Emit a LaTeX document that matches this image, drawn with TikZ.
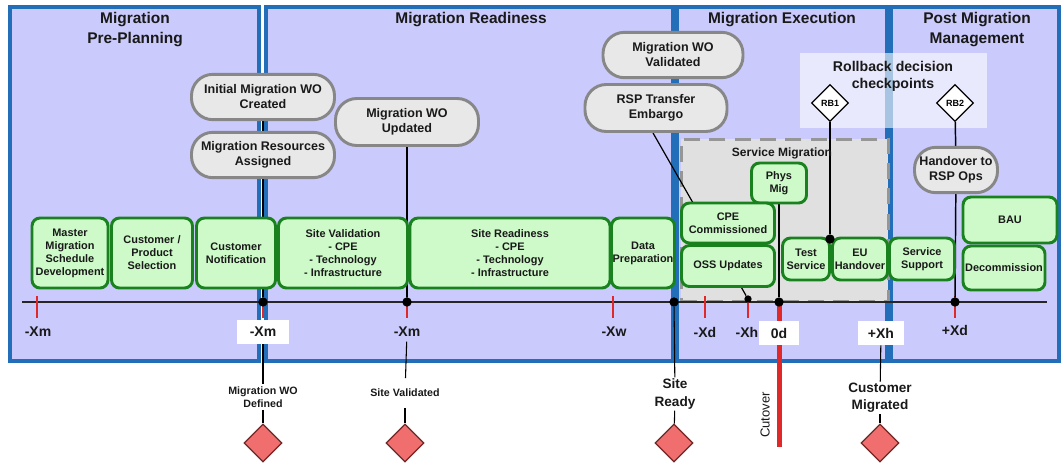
\documentclass[tikz,border=0pt]{standalone}
\usepackage{fontspec}
\setmainfont{Liberation Sans}
\usetikzlibrary{shapes.geometric}

\definecolor{panelfill}{RGB}{202,202,252}
\definecolor{panelblue}{RGB}{35,110,185}
\definecolor{greenfill}{RGB}{205,250,200}
\definecolor{greenline}{RGB}{25,130,30}
\definecolor{bubblefill}{RGB}{232,232,232}
\definecolor{bubbleline}{RGB}{135,135,135}
\definecolor{smfill}{RGB}{224,224,224}
\definecolor{smline}{RGB}{150,150,150}
\definecolor{redtick}{RGB}{225,40,40}
\definecolor{msfill}{RGB}{240,110,110}
\definecolor{msline}{RGB}{110,40,40}
\definecolor{textc}{RGB}{25,25,25}

\pgfdeclarelayer{panels}
\pgfdeclarelayer{links}
\pgfsetlayers{panels,links,main}

\begin{document}
\begin{tikzpicture}[x=0.75pt,y=-0.75pt,
  panel/.style={draw=panelblue,line width=2.4pt,fill=panelfill,anchor=north west,
    inner sep=0,outer sep=0,minimum height=265.5pt},
  ptitle/.style={font=\bfseries\fontsize{11.6}{15}\selectfont,align=center,text=textc},
  task/.style={draw=greenline,line width=2.2pt,fill=greenfill,rounded corners=6pt,
    inner sep=1pt,align=center,text=textc,font=\bfseries\fontsize{8.2}{9.75}\selectfont},
  bubble/.style={draw=bubbleline,line width=2.2pt,fill=bubblefill,rounded corners=16pt,
    align=center,text=textc,font=\bfseries\fontsize{9.4}{11.25}\selectfont,
    minimum width=107.25pt,minimum height=34pt,inner sep=1pt},
  dot/.style={circle,fill=black,inner sep=0,minimum size=7pt},
  tick/.style={draw=redtick,line width=1.4pt},
  tlabel/.style={font=\bfseries\fontsize{10.5}{12}\selectfont,text=textc},
  tbox/.style={tlabel,fill=white,inner sep=0,minimum height=18pt},
  rb/.style={diamond,draw=black,line width=0.9pt,fill=white,inner sep=0,
    minimum size=27.75pt,font=\bfseries\fontsize{6.75}{8}\selectfont},
  mstone/.style={diamond,draw=msline,line width=1pt,fill=msfill,inner sep=0,minimum size=28.5pt},
  mslabel/.style={align=center,text=textc,inner sep=1pt,font=\bfseries\fontsize{8}{9.75}\selectfont},
  mslabelbig/.style={align=center,text=textc,inner sep=1pt,font=\bfseries\fontsize{10.2}{13}\selectfont},
  link/.style={draw=black,line width=1.1pt}
]
\useasboundingbox (0,0) rectangle (1063,462);

% phase panels and overlays
\begin{pgfonlayer}{panels}
  \node[panel,minimum width=186.75pt] (p1) at (10,7) {};
  \node[panel,minimum width=305.25pt] (p2) at (266,7) {};
  \node[panel,minimum width=157.5pt] (p3) at (677,7) {};
  \node[panel,minimum width=126pt] (p4) at (891,7) {};
  \node[anchor=north west,fill=smfill,draw=smline,line width=2.2pt,
        dash pattern=on 12pt off 7pt,inner sep=0,
        minimum width=155.25pt,minimum height=121.5pt] (smbox) at (680,138) {};
  \node[anchor=north west,fill=white,fill opacity=0.6,inner sep=0,
        minimum width=140.25pt,minimum height=56.25pt] (rbbox) at (800,53) {};
\end{pgfonlayer}

% phase titles
\node[ptitle] (t1) at (135,30) {Migration\\Pre-Planning};
\node[ptitle] (t2) at (471,20) {Migration Readiness};
\node[ptitle] (t3) at (782,20) {Migration Execution};
\node[ptitle] (t4) at (977,30) {Post Migration\\Management};
\node[ptitle,font=\bfseries\fontsize{10.6}{12.75}\selectfont] (trb) at (893,76) {Rollback decision\\checkpoints};
\node[ptitle,font=\bfseries\fontsize{9}{11}\selectfont] (tsm) at (782,153) {Service Migration};

% work packages
\node[task,minimum width=57pt,minimum height=52.5pt,inner sep=0] (mms) at (70,253) {Master\\Migration\\Schedule\\Development};
\node[task,minimum width=60.75pt,minimum height=52.5pt] (cps) at (152,253) {Customer /\\Product\\Selection};
\node[task,minimum width=59.25pt,minimum height=52.5pt] (cn) at (236,253) {Customer\\Notification};
\node[task,minimum width=96.75pt,minimum height=52.5pt] (sv) at (343,253) {Site Validation\\- CPE\\- Technology\\- Infrastructure};
\node[task,minimum width=150pt,minimum height=52.5pt] (sr) at (510,253) {Site Readiness\\- CPE\\- Technology\\- Infrastructure};
\node[task,minimum width=47.25pt,minimum height=52.5pt,inner sep=0] (dp) at (643,253) {Data\\Preparation};
\node[task,minimum width=41.25pt,minimum height=30pt] (phys) at (779,183) {Phys\\Mig};
\node[task,minimum width=69.75pt,minimum height=30pt] (cpe) at (728,223) {CPE\\Commissioned};
\node[task,minimum width=69.75pt,minimum height=30.75pt] (oss) at (728,266) {OSS Updates};
\node[task,minimum width=35.25pt,minimum height=31.5pt,inner sep=0] (ts) at (806,259) {Test\\Service};
\node[task,minimum width=41.25pt,minimum height=31.5pt,inner sep=0] (euh) at (860,259) {EU\\Handover};
\node[task,minimum width=48.75pt,minimum height=31.5pt] (ssup) at (922,259) {Service\\Support};
\node[task,minimum width=70.5pt,minimum height=34.5pt] (bau) at (1010,220) {BAU};
\node[task,minimum width=61.5pt,minimum height=33pt,inner sep=0] (dec) at (1004,268) {Decommission};

% events
\node[bubble] (imwo) at (263,97) {Initial Migration WO\\Created};
\node[bubble] (mra) at (263,155) {Migration Resources\\Assigned};
\node[bubble,minimum height=35.25pt] (mwu) at (407,122) {Migration WO\\Updated};
\node[bubble,minimum width=105pt] (mwv) at (673,55) {Migration WO\\Validated};
\node[bubble,minimum height=35.25pt,minimum width=106.5pt] (rsp) at (656,108) {RSP Transfer\\Embargo};
\node[bubble,minimum width=62.25pt] (hrsp) at (956,170) {Handover to\\RSP Ops};

% rollback checkpoints
\node[rb] (rb1) at (830,103) {RB1};
\node[rb] (rb2) at (955,103) {RB2};

% points on the timeline
\node[dot] (d1) at (263,302) {};
\node[dot] (d2) at (407,302) {};
\node[dot] (d3) at (674,302) {};
\node[dot,minimum size=5.5pt] (d4) at (748,299) {};
\node[dot] (d5) at (779,302) {};
\node[dot] (d6) at (955,302) {};
\node[dot] (d7) at (830,239) {};
\coordinate (tl0) at (22,302);
\coordinate (tl1) at (1047,302);

% timeline labels
\node[tlabel] (xm1) at (38,332) {-Xm};
\node[tbox,minimum width=39pt] (xm2) at (263,332) {-Xm};
\node[tlabel] (xm3) at (407,332) {-Xm};
\node[tlabel] (xw) at (614,332) {-Xw};
\node[tlabel] (xd1) at (705,332) {-Xd};
\node[tlabel] (xh1) at (747,332) {-Xh};
\node[tbox,minimum width=30pt] (zd) at (779,333) {0d};
\node[tbox,minimum width=35pt] (xh2) at (881,333) {+Xh};
\node[tlabel] (xd2) at (955,330) {+Xd};

% milestones
\node[mslabel,minimum height=19pt] (lwo) at (263,397) {Migration WO\\Defined};
\node[mslabel,minimum height=22pt] (lsv) at (405,393) {Site Validated};
\node[mslabelbig] (lsr) at (675,394) {Site\\Ready};
\node[mslabelbig] (lcm) at (880,398) {Customer\\Migrated};
\node[mstone] (m1) at (263,443) {};
\node[mstone] (m2) at (405,443) {};
\node[mstone] (m3) at (674,443) {};
\node[mstone] (m4) at (880,443) {};
\node[rotate=90,text=textc,font=\fontsize{9.8}{11}\selectfont] (cut) at (765,415) {Cutover};

% timeline, ticks and connectors
\begin{pgfonlayer}{links}
  \draw[line width=1.1pt,draw=black!85] (tl0) -- (tl1);
  \foreach \tx in {37,263,407,613,705,748,955}
    \draw[tick] (\tx,296) -- (\tx,318);
  \draw[draw=redtick,line width=3.75pt] (779,305) -- (779,447);
  \draw[link] (imwo) -- (mra);
  \draw[link] (mra) -- (d1);
  \draw[link] (mwu) -- (d2);
  \draw[link,line width=0.9pt] (rsp.south) ++(-3,0) -- (d4);
  \draw[link] (phys) -- (d5);
  \draw[link] (rb1) -- (d7);
  \draw[link] (rb2) -- (hrsp);
  \draw[link] (hrsp) -- (d6);
  \draw[link,line width=0.8pt] (xm2) -- (lwo);
  \draw[link,line width=0.8pt] (lwo) -- (m1);
  \draw[link,line width=0.8pt] (xm3) -- (lsv);
  \draw[link,line width=0.8pt] (lsv) -- (m2);
  \draw[link,line width=0.8pt] (d3) -- (lsr);
  \draw[link,line width=0.8pt] (lsr) -- (m3);
  \draw[link,line width=0.8pt] (xh2) -- (lcm);
  \draw[link,line width=0.8pt] (lcm) -- (m4);
\end{pgfonlayer}
\end{tikzpicture}
\end{document}
